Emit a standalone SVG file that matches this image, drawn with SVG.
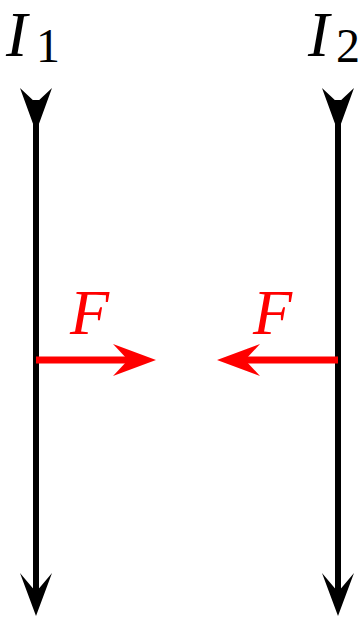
<svg xmlns="http://www.w3.org/2000/svg" width="360" height="620" viewBox="0 0 360 620">
<style>
.lbl{font-family:"Liberation Serif","DejaVu Serif",serif;font-style:italic;font-size:64px}
.sub{font-family:"Liberation Serif","DejaVu Serif",serif;font-size:48px}
.wire{stroke:#000;stroke-width:6;fill:none}
.force{stroke:#f00;stroke-width:7;fill:none}
</style>
<rect width="360" height="620" fill="#fff"/>
<g id="connectors">
<g id="wire1">
<line class="wire" x1="36" y1="100" x2="36" y2="595"/>
<path d="M20,88 L36,103 L52,88 L36,132 Z" fill="#000"/>
<path d="M20,573 L36,592 L52,573 L36,616 Z" fill="#000"/>
</g>
<g id="wire2">
<line class="wire" x1="338" y1="100" x2="338" y2="595"/>
<path d="M322,88 L338,103 L354,88 L338,132 Z" fill="#000"/>
<path d="M322,573 L338,592 L354,573 L338,616 Z" fill="#000"/>
</g>
<g id="force1">
<line class="force" x1="36" y1="360" x2="135" y2="360"/>
<path d="M113,344 L128,360 L113,376 L156,360 Z" fill="#f00"/>
</g>
<g id="force2">
<line class="force" x1="338" y1="360" x2="238" y2="360"/>
<path d="M260,344 L245,360 L260,376 L217,360 Z" fill="#f00"/>
</g>
</g>
<g id="label-I1"><text class="lbl" x="6" y="56">I</text><text class="sub" x="36" y="62">1</text></g>
<g id="label-I2"><text class="lbl" x="308" y="56">I</text><text class="sub" x="336" y="62">2</text></g>
<g id="label-F1"><text class="lbl" x="70" y="334" fill="#f00">F</text></g>
<g id="label-F2"><text class="lbl" x="253" y="334" fill="#f00">F</text></g>
</svg>
